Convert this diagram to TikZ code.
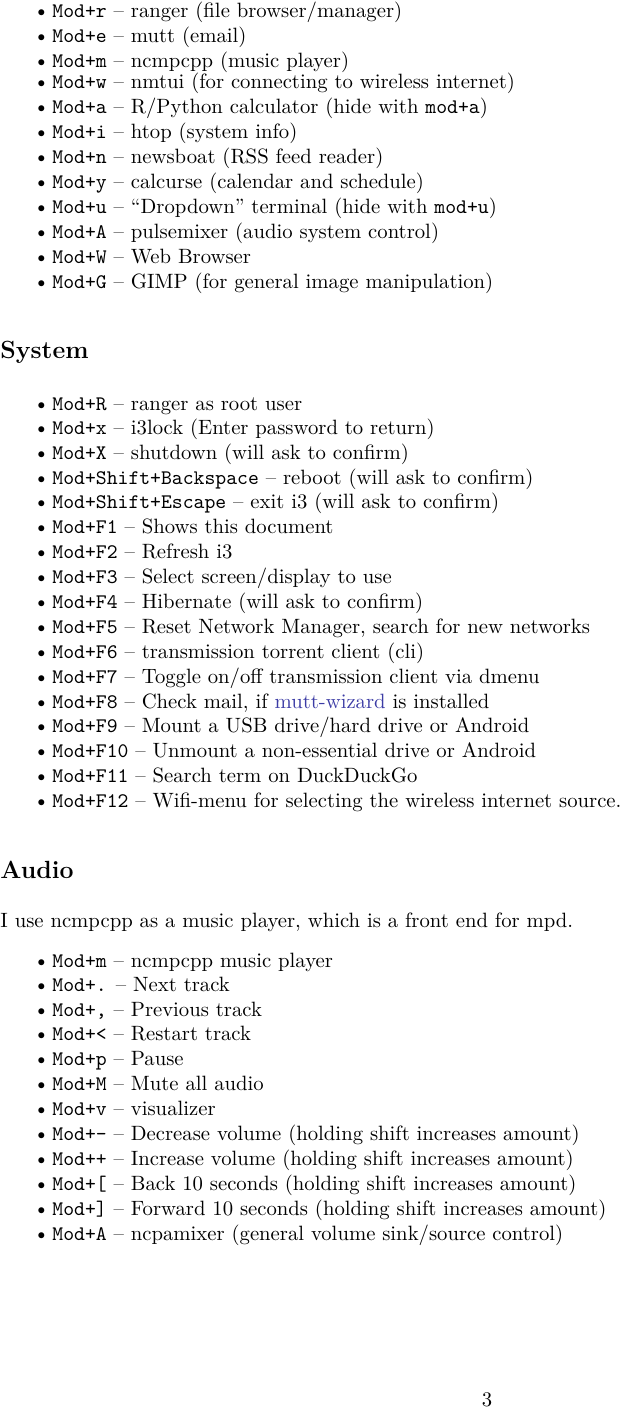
\documentclass[tikz,border=0pt]{standalone}
\definecolor{linkc}{RGB}{60,60,165}
\newcommand\itm[3]{\node[bul] at (33,#1+5) {\textbullet}; \node[txt] at (52,#1+5) {\texttt{#2} -- #3};}
\begin{document}
\begin{tikzpicture}[x=0.483pt,y=-0.483pt,
  bul/.style={anchor=base west,inner sep=0pt},
  txt/.style={anchor=base west,inner sep=0pt},
  head/.style={anchor=base west,inner sep=0pt,font=\large\bfseries}]
\useasboundingbox (0,0) rectangle (620,1408);
\itm{12}{Mod+r}{ranger (file browser/manager)}
\itm{37}{Mod+e}{mutt (email)}
\itm{62}{Mod+m}{ncmpcpp (music player)}
\itm{83}{Mod+w}{nmtui (for connecting to wireless internet)}
\itm{108}{Mod+a}{R/Python calculator (hide with \texttt{mod+a})}
\itm{133}{Mod+i}{htop (system info)}
\itm{158}{Mod+n}{newsboat (RSS feed reader)}
\itm{183}{Mod+y}{calcurse (calendar and schedule)}
\itm{208}{Mod+u}{``Dropdown'' terminal (hide with \texttt{mod+u})}
\itm{233}{Mod+A}{pulsemixer (audio system control)}
\itm{258}{Mod+W}{Web Browser}
\itm{283}{Mod+G}{GIMP (for general image manipulation)}
\node[head] (sys) at (0,358) {System};
\itm{405}{Mod+R}{ranger as root user}
\itm{429}{Mod+x}{i3lock (Enter password to return)}
\itm{454}{Mod+X}{shutdown (will ask to confirm)}
\itm{479}{Mod+Shift+Backspace}{reboot (will ask to confirm)}
\itm{503}{Mod+Shift+Escape}{exit i3 (will ask to confirm)}
\itm{528}{Mod+F1}{Shows this document}
\itm{553}{Mod+F2}{Refresh i3}
\itm{578}{Mod+F3}{Select screen/display to use}
\itm{603}{Mod+F4}{Hibernate (will ask to confirm)}
\itm{628}{Mod+F5}{Reset Network Manager, search for new networks}
\itm{653}{Mod+F6}{transmission torrent client (cli)}
\itm{678}{Mod+F7}{Toggle on/off transmission client via dmenu}
\itm{703}{Mod+F8}{Check mail, if \textcolor{linkc}{mutt-wizard} is installed}
\itm{727}{Mod+F9}{Mount a USB drive/hard drive or Android}
\itm{752}{Mod+F10}{Unmount a non-essential drive or Android}
\itm{777}{Mod+F11}{Search term on DuckDuckGo}
\itm{802}{Mod+F12}{Wifi-menu for selecting the wireless internet source.}
\node[head] (aud) at (0,878) {Audio};
\node[txt] (par) at (0,927) {I use ncmpcpp as a music player, which is a front end for mpd.};
\itm{962}{Mod+m}{ncmpcpp music player}
\itm{986}{Mod+.}{Next track}
\itm{1011}{Mod+,}{Previous track}
\itm{1035}{Mod+<}{Restart track}
\itm{1060}{Mod+p}{Pause}
\itm{1085}{Mod+M}{Mute all audio}
\itm{1110}{Mod+v}{visualizer}
\itm{1135}{Mod+-}{Decrease volume (holding shift increases amount)}
\itm{1160}{Mod++}{Increase volume (holding shift increases amount)}
\itm{1185}{Mod+[}{Back 10 seconds (holding shift increases amount)}
\itm{1210}{Mod+]}{Forward 10 seconds (holding shift increases amount)}
\itm{1235}{Mod+A}{ncpamixer (general volume sink/source control)}
\node[anchor=base,inner sep=0pt] (pg) at (487,1406) {3};
\end{tikzpicture}
\end{document}
